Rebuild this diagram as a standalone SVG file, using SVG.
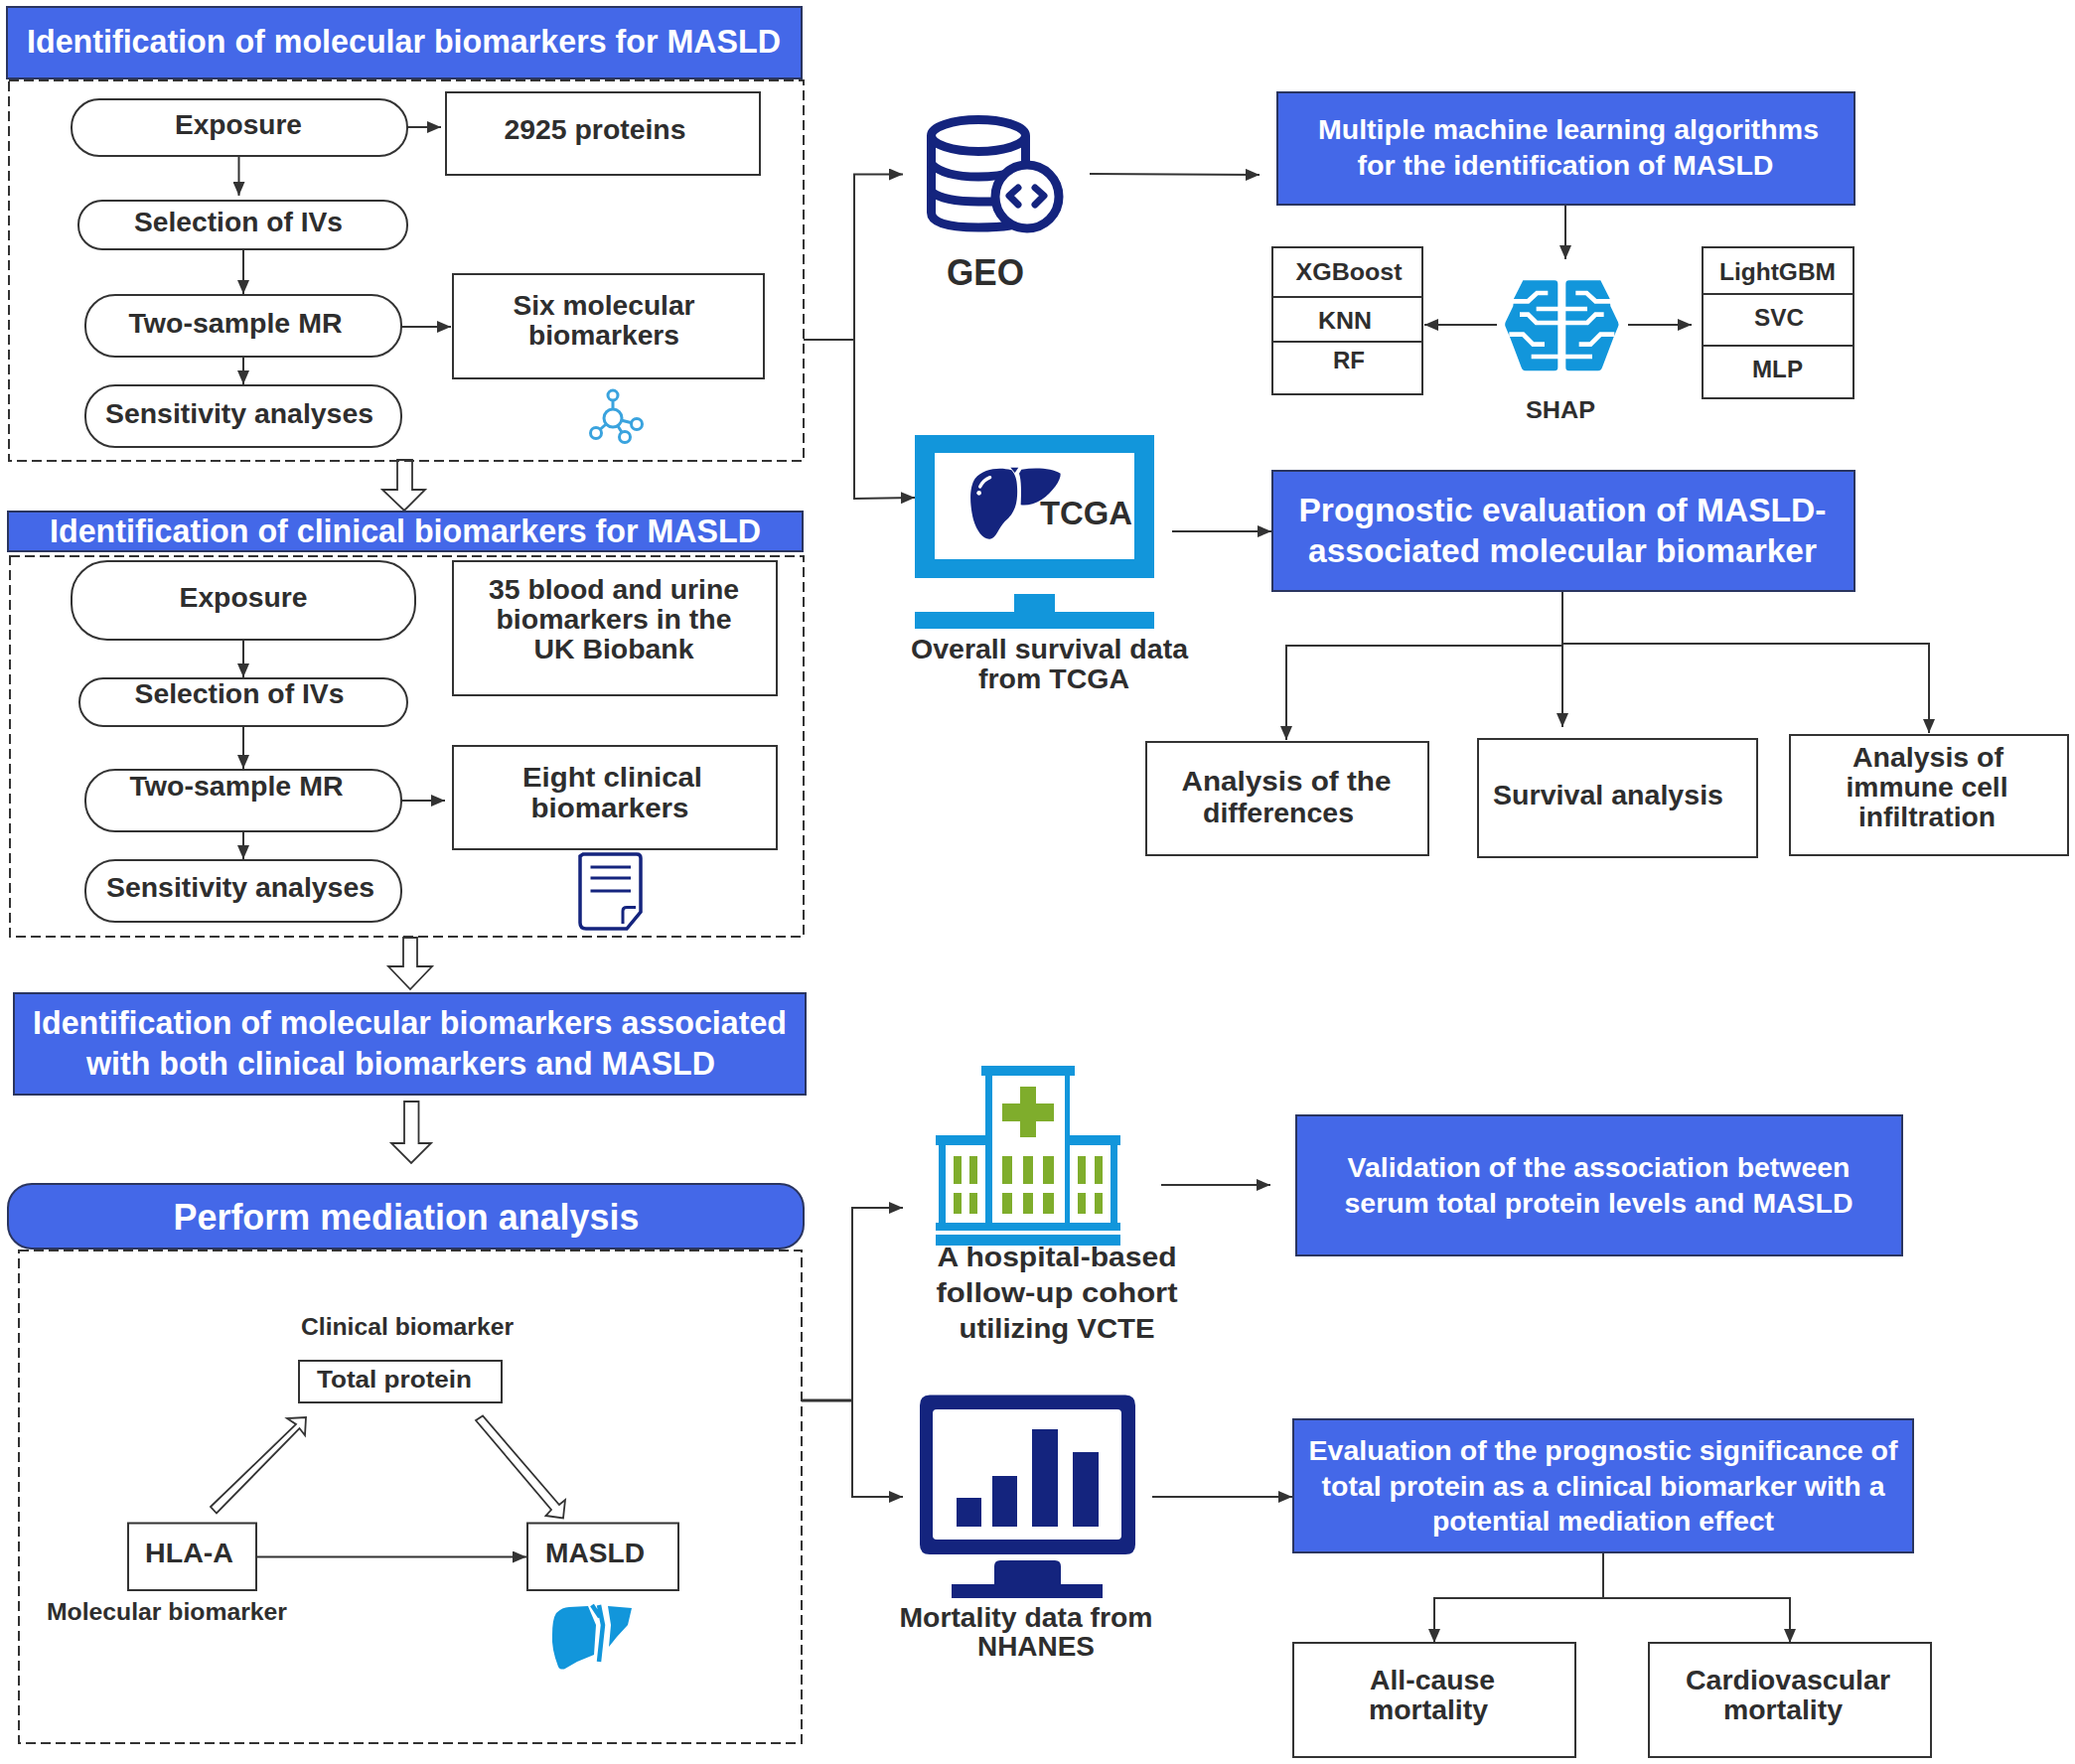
<svg xmlns="http://www.w3.org/2000/svg" width="2089" height="1776" viewBox="0 0 2089 1776">
<style>
text{font-family:"Liberation Sans",Arial,sans-serif;font-weight:700;text-anchor:middle;fill:#2e2e2e;font-size:28px}
.w{fill:#fff}.h{font-size:33px}.s{font-size:24px}.b{font-size:36px}
.blue{fill:#4468e8;stroke:#2a3560;stroke-width:2}
.box{fill:#fff;stroke:#333;stroke-width:2}
.dash{fill:none;stroke:#333;stroke-width:2;stroke-dasharray:10 5}
.hollow{fill:#fff;stroke:#333;stroke-width:1.8}
.ln{fill:none;stroke:#333;stroke-width:2}
.ar{fill:none;stroke:#333;stroke-width:2;marker-end:url(#a)}
.navy{fill:#14247e}.sky{fill:#1296db}.grn{fill:#7fad2c}
</style>
<defs>
<marker id="a" markerUnits="userSpaceOnUse" markerWidth="14" markerHeight="12" refX="14" refY="6" orient="auto"><path d="M0 0L14 6L0 12Z" fill="#333"/></marker>
<g id="brainhalf"><path d="M130 67H225Q235 67 235 77V330Q235 340 225 340H137Q129 340 125 330L90 238L77 207Q74 200 77 193L100 145L102 122Z" fill="#1296db"/>
<path d="M98 130H145L172 105H205M170 153H238M120 170H145L170 195H238M88 230H130L160 260H195M155 297H238" fill="none" stroke="#fff" stroke-width="14"/></g>
</defs>

<g id="connectors">
<path class="ar" d="M410 128H444"/><path class="ar" d="M240.500 157V197"/><path class="ar" d="M245 251V296"/><path class="ar" d="M245 359V387"/><path class="ar" d="M404 329H454"/>
<path class="ar" d="M245 644V682"/><path class="ar" d="M245 731V774"/><path class="ar" d="M245 837V865"/><path class="ar" d="M404 806H448"/>
<path class="ln" d="M809 342H860"/><path class="ar" d="M860 342V175.500H909"/><path class="ar" d="M860 342V502L921 501"/>
<path class="ar" d="M1097 175L1268 176"/><path class="ar" d="M1576 206V261"/><path class="ar" d="M1507 327H1434"/><path class="ar" d="M1639 327H1703"/>
<path class="ar" d="M1180 535H1280"/>
<path class="ln" d="M1573 595V650"/><path class="ar" d="M1573 650H1295V745"/><path class="ar" d="M1573 650V732"/><path class="ar" d="M1573 648H1942V738"/>
<path class="ln" d="M807 1410H858" style="stroke-width:3"/><path class="ar" d="M858 1410V1216H909"/><path class="ar" d="M858 1410V1507H909"/>
<path class="ar" d="M1169 1193H1279"/><path class="ar" d="M1160 1507H1301"/>
<path class="ln" d="M1614 1563V1609"/><path class="ar" d="M1614 1609H1444V1654"/><path class="ar" d="M1614 1609H1802V1654"/>
<path class="ar" d="M258 1567.500H530"/>
<path class="hollow" d="M400 463H415V493H428L407 514L385 493H400Z"/>
<path class="hollow" d="M406 944H420V973H435L413 996L391 973H406Z"/>
<path class="hollow" d="M407 1109H421.500V1151H434L414 1171L394 1151H407Z"/>
<path class="hollow" d="M212 1517L298 1434L289 1428L308 1427L307 1445L301.500 1438L218 1523.500Z"/>
<path class="hollow" d="M479 1430L486 1425.500L563 1515L569 1510L567 1528.500L549.500 1526L555 1520Z"/>
</g>

<g id="section1">
<g id="header1"><rect class="blue" x="7" y="7" width="800" height="72"/><text class="w h" x="406.500" y="53" textLength="759" lengthAdjust="spacingAndGlyphs">Identification of molecular biomarkers for MASLD</text></g>
<rect id="frame1" class="dash" x="9" y="81" width="800" height="383"/>
<g id="exposure1"><rect class="box" x="72" y="100" width="338" height="57" rx="28"/><text x="240" y="135" textLength="128" lengthAdjust="spacingAndGlyphs">Exposure</text></g>
<g id="proteins"><rect class="box" x="449" y="93" width="316" height="83"/><text x="599" y="140" textLength="183" lengthAdjust="spacingAndGlyphs">2925 proteins</text></g>
<g id="selection1"><rect class="box" x="79" y="202" width="331" height="49" rx="24"/><text x="240" y="233" textLength="210" lengthAdjust="spacingAndGlyphs">Selection of IVs</text></g>
<g id="twosample1"><rect class="box" x="86" y="297" width="318" height="62" rx="30"/><text x="237" y="335" textLength="215" lengthAdjust="spacingAndGlyphs">Two-sample MR</text></g>
<g id="sensitivity1"><rect class="box" x="86" y="388" width="318" height="62" rx="30"/><text x="241" y="426" textLength="270" lengthAdjust="spacingAndGlyphs">Sensitivity analyses</text></g>
<g id="sixmol"><rect class="box" x="456" y="276" width="313" height="105"/><text x="608" y="317" textLength="183" lengthAdjust="spacingAndGlyphs">Six molecular</text><text x="608" y="347" textLength="152" lengthAdjust="spacingAndGlyphs">biomarkers</text></g>
<g id="molecule" fill="#fff" stroke="#3aa3de" stroke-width="3"><path d="M617 402V421L641 427M617 421L629 440M617 421L600 436" fill="none"/><circle cx="617" cy="398" r="5"/><circle cx="617" cy="421" r="9"/><circle cx="641" cy="427" r="5.500"/><circle cx="629" cy="440" r="5.500"/><circle cx="600" cy="436" r="5.500"/></g>
</g>

<g id="section2">
<g id="header2"><rect class="blue" x="8" y="515" width="800" height="40"/><text class="w h" x="408" y="546" textLength="716" lengthAdjust="spacingAndGlyphs">Identification of clinical biomarkers for MASLD</text></g>
<rect id="frame2" class="dash" x="10" y="560" width="799" height="383"/>
<g id="exposure2"><rect class="box" x="72" y="565" width="346" height="79" rx="36"/><text x="245" y="611" textLength="129" lengthAdjust="spacingAndGlyphs">Exposure</text></g>
<g id="blood"><rect class="box" x="456" y="565" width="326" height="135"/><text x="618" y="603" textLength="252" lengthAdjust="spacingAndGlyphs">35 blood and urine</text><text x="618" y="633" textLength="237" lengthAdjust="spacingAndGlyphs">biomarkers in the</text><text x="618" y="663" textLength="161" lengthAdjust="spacingAndGlyphs">UK Biobank</text></g>
<g id="selection2"><rect class="box" x="80" y="683" width="330" height="48" rx="24"/><text x="241" y="708" textLength="211" lengthAdjust="spacingAndGlyphs">Selection of IVs</text></g>
<g id="twosample2"><rect class="box" x="86" y="775" width="318" height="62" rx="30"/><text x="238" y="801" textLength="215" lengthAdjust="spacingAndGlyphs">Two-sample MR</text></g>
<g id="sensitivity2"><rect class="box" x="86" y="866" width="318" height="62" rx="30"/><text x="242" y="903" textLength="270" lengthAdjust="spacingAndGlyphs">Sensitivity analyses</text></g>
<g id="eight"><rect class="box" x="456" y="751" width="326" height="104"/><text x="616.500" y="792" textLength="181" lengthAdjust="spacingAndGlyphs">Eight clinical</text><text x="614" y="823" textLength="159" lengthAdjust="spacingAndGlyphs">biomarkers</text></g>
<g id="document" fill="none" stroke="#14247e" stroke-width="3.500"><path d="M587 860H641Q645 860 645 864V918L631 935H590Q584 935 584 929V862Z" fill="#fff"/><path d="M594.500 873H635M594.500 884H635M594.500 897H635M627 930V917Q627 913.500 631 913.500H640" stroke-width="3"/></g>
</g>

<g id="header3"><rect class="blue" x="14" y="1000" width="797" height="102"/><text class="w h" x="412.500" y="1041" textLength="759" lengthAdjust="spacingAndGlyphs">Identification of molecular biomarkers associated</text><text class="w h" x="403.500" y="1082" textLength="633" lengthAdjust="spacingAndGlyphs">with both clinical biomarkers and MASLD</text></g>
<g id="mediationhead"><rect class="blue" x="8" y="1192" width="801" height="65" rx="24"/><text class="w b" x="409" y="1238" textLength="469" lengthAdjust="spacingAndGlyphs">Perform mediation analysis</text></g>
<rect id="frame3" class="dash" x="19" y="1259" width="788" height="496"/>
<text x="410" y="1344" class="s" textLength="214" lengthAdjust="spacingAndGlyphs">Clinical biomarker</text>
<g id="totalprotein"><rect class="box" x="301" y="1370" width="204" height="42"/><text class="s" x="397" y="1397" textLength="156" lengthAdjust="spacingAndGlyphs">Total protein</text></g>
<g id="hlaa"><rect class="box" x="129" y="1533.500" width="129" height="67.500"/><text x="190.500" y="1573" textLength="89" lengthAdjust="spacingAndGlyphs">HLA-A</text></g>
<g id="masld"><rect class="box" x="531" y="1533.500" width="152" height="67.500"/><text x="599" y="1573" textLength="100" lengthAdjust="spacingAndGlyphs">MASLD</text></g>
<text class="s" x="168" y="1631" textLength="242" lengthAdjust="spacingAndGlyphs">Molecular biomarker</text>
<g id="liverblue"><path class="sky" d="M592 1617L600 1636L598 1666L581 1673L568 1680.500Q563 1681 562 1678Q555 1660 556 1646Q556 1630 560 1624Q566 1618 573 1618Z"/><path class="sky" d="M612 1617L636 1619L632 1636L621 1648L613 1658L615 1636Z"/><path d="M603 1616L607 1636L603 1673M596 1616L604 1628" fill="none" stroke="#1296db" stroke-width="4.500"/></g>

<g id="geo"><g fill="none" stroke="#14247e" stroke-width="9"><path d="M937.500 137V214Q937.500 229 985 229Q1015 229 1030 224V137Z" fill="#fff" stroke="none"/><path d="M937.500 137V214Q937.500 229 985 229Q1015 229 1030 224"/><ellipse cx="985" cy="136.500" rx="47.500" ry="16" fill="#fff"/><path d="M937.500 165Q950 178 985 178Q1020 178 1032.500 165M937.500 193Q950 203 985 203H1005M1032.500 137V168"/><circle cx="1034" cy="198" r="32" fill="#fff"/></g>
<path d="M1025 189L1016 197L1025 206M1042 189L1051 197L1042 206" fill="none" stroke="#14247e" stroke-width="7" stroke-linecap="round" stroke-linejoin="round"/>
<text x="992" y="287" textLength="78" lengthAdjust="spacingAndGlyphs" style="font-size:37px">GEO</text></g>

<g id="mlbox"><rect class="blue" x="1286" y="93" width="581" height="113"/><text class="w" x="1579" y="140" textLength="504" lengthAdjust="spacingAndGlyphs">Multiple machine learning algorithms</text><text class="w" x="1576" y="176" textLength="419" lengthAdjust="spacingAndGlyphs">for the identification of MASLD</text></g>
<g id="leftmodels"><rect class="box" x="1281" y="249" width="151" height="148"/><path class="ln" d="M1281 299H1432M1281 344H1432"/><text class="s" x="1358" y="282" textLength="107" lengthAdjust="spacingAndGlyphs">XGBoost</text><text class="s" x="1354" y="331" textLength="54" lengthAdjust="spacingAndGlyphs">KNN</text><text class="s" x="1358" y="371" textLength="32" lengthAdjust="spacingAndGlyphs">RF</text></g>
<g id="rightmodels"><rect class="box" x="1714" y="249" width="152" height="152"/><path class="ln" d="M1714 296H1866M1714 348H1866"/><text class="s" x="1789.500" y="282" textLength="117" lengthAdjust="spacingAndGlyphs">LightGBM</text><text class="s" x="1791" y="328" textLength="50" lengthAdjust="spacingAndGlyphs">SVC</text><text class="s" x="1789.500" y="380" textLength="51" lengthAdjust="spacingAndGlyphs">MLP</text></g>
<g id="brain"><g transform="translate(1490 260) scale(.3333)"><use href="#brainhalf"/><use href="#brainhalf" transform="translate(494 0) scale(-1 1)"/></g><text class="s" x="1571" y="421" textLength="70" lengthAdjust="spacingAndGlyphs">SHAP</text></g>

<g id="tcga"><path class="sky" fill-rule="evenodd" d="M921 438H1162V582H921ZM941 456V563H1142V456Z"/><path class="sky" d="M1021 598H1062V616H1162V633H921V616H1021Z"/>
<g transform="translate(900 420) scale(.3333)"><path class="navy" d="M355 160C320 150 270 155 245 185C225 215 230 270 240 310C250 345 270 370 290 368C310 365 315 335 335 315C365 290 375 260 372 210C372 190 365 170 355 160Z"/><path class="navy" d="M385 158C430 150 480 155 503 170C505 190 480 225 445 250C425 263 400 268 383 265C385 230 385 190 378 170Z"/><path class="navy" d="M352 152H376L365 168Z"/><path d="M260 210Q270 190 290 182" fill="none" stroke="#fff" stroke-width="10" stroke-linecap="round"/><circle cx="257" cy="229" r="7" fill="#fff"/></g>
<text x="1093.500" y="528" textLength="93" lengthAdjust="spacingAndGlyphs" style="font-size:33px">TCGA</text>
<text x="1056.500" y="663" textLength="279" lengthAdjust="spacingAndGlyphs">Overall survival data</text><text x="1061" y="693" textLength="152" lengthAdjust="spacingAndGlyphs">from TCGA</text></g>
<g id="progbox"><rect class="blue" x="1281" y="474" width="586" height="121"/><text class="w h" x="1573" y="525" textLength="531" lengthAdjust="spacingAndGlyphs">Prognostic evaluation of MASLD-</text><text class="w h" x="1573" y="566" textLength="512" lengthAdjust="spacingAndGlyphs">associated molecular biomarker</text></g>
<g id="differences"><rect class="box" x="1154" y="747" width="284" height="114"/><text x="1295" y="796" textLength="211" lengthAdjust="spacingAndGlyphs">Analysis of the</text><text x="1287" y="828" textLength="152" lengthAdjust="spacingAndGlyphs">differences</text></g>
<g id="survival"><rect class="box" x="1488" y="744" width="281" height="119"/><text x="1619" y="810" textLength="232" lengthAdjust="spacingAndGlyphs">Survival analysis</text></g>
<g id="immune"><rect class="box" x="1802" y="740" width="280" height="121"/><text x="1941" y="772" textLength="152" lengthAdjust="spacingAndGlyphs">Analysis of</text><text x="1940" y="802" textLength="163" lengthAdjust="spacingAndGlyphs">immune cell</text><text x="1940" y="832" textLength="138" lengthAdjust="spacingAndGlyphs">infiltration</text></g>

<g id="hospital"><g class="sky"><path d="M988 1073H1082V1083H1077V1231H1072V1083H999V1231H992V1083H988Z"/><path d="M942 1143H992V1153H952V1231H945V1153H942Z"/><path d="M1077 1143H1128V1153H1125V1231H1118V1153H1077Z"/><path d="M942 1231H1128V1239H942ZM942 1243H1128V1254H942Z"/></g>
<path class="grn" d="M1027 1094H1043V1111H1061V1129H1043V1145H1027V1129H1009V1111H1027Z"/>
<path class="grn" d="M960 1164h8v28h-8zM976 1164h8v28h-8zM1009 1164h10v28h-10zM1030 1164h10v28h-10zM1050 1164h11v28h-11zM1085 1164h8v28h-8zM1102 1164h8v28h-8zM960 1201h8v21h-8zM976 1201h8v21h-8zM1009 1201h10v21h-10zM1030 1201h10v21h-10zM1050 1201h11v21h-11zM1085 1201h8v21h-8zM1102 1201h8v21h-8z"/>
<text x="1064" y="1275" textLength="241" lengthAdjust="spacingAndGlyphs">A hospital-based</text><text x="1064" y="1311" textLength="243" lengthAdjust="spacingAndGlyphs">follow-up cohort</text><text x="1064" y="1347" textLength="197" lengthAdjust="spacingAndGlyphs">utilizing VCTE</text></g>
<g id="validation"><rect class="blue" x="1305" y="1123" width="610" height="141"/><text class="w" x="1609.500" y="1185" textLength="506" lengthAdjust="spacingAndGlyphs">Validation of the association between</text><text class="w" x="1609.500" y="1221" textLength="512" lengthAdjust="spacingAndGlyphs">serum total protein levels and MASLD</text></g>

<g id="nhanes"><path class="navy" fill-rule="evenodd" d="M936 1404.500H1133Q1143 1404.500 1143 1415V1555Q1143 1565 1133 1565H936Q926 1565 926 1555V1415Q926 1404.500 936 1404.500ZM943 1419Q939 1419 939 1423V1546Q939 1550 943 1550H1125Q1129 1550 1129 1546V1423Q1129 1419 1125 1419Z"/>
<path class="navy" d="M963 1508h25v29h-25zM999 1486h25v51h-25zM1039 1439h26v98h-26zM1080 1462h26v75h-26z"/><path class="navy" d="M1007 1571H1062Q1068 1571 1068 1577V1595H1110V1609H958V1595H1001V1577Q1001 1571 1007 1571Z"/>
<text x="1033" y="1638" textLength="255" lengthAdjust="spacingAndGlyphs">Mortality data from</text><text x="1043" y="1667" textLength="118" lengthAdjust="spacingAndGlyphs">NHANES</text></g>
<g id="evaluation"><rect class="blue" x="1302" y="1429" width="624" height="134"/><text class="w" x="1614" y="1470" textLength="593" lengthAdjust="spacingAndGlyphs">Evaluation of the prognostic significance of</text><text class="w" x="1614" y="1506" textLength="567" lengthAdjust="spacingAndGlyphs">total protein as a clinical biomarker with a</text><text class="w" x="1614" y="1541" textLength="344" lengthAdjust="spacingAndGlyphs">potential mediation effect</text></g>
<g id="allcause"><rect class="box" x="1302" y="1654" width="284" height="115"/><text x="1442" y="1701" textLength="126" lengthAdjust="spacingAndGlyphs">All-cause</text><text x="1438" y="1731" textLength="120" lengthAdjust="spacingAndGlyphs">mortality</text></g>
<g id="cardio"><rect class="box" x="1660" y="1654" width="284" height="115"/><text x="1800" y="1701" textLength="206" lengthAdjust="spacingAndGlyphs">Cardiovascular</text><text x="1795" y="1731" textLength="120" lengthAdjust="spacingAndGlyphs">mortality</text></g>
</svg>
